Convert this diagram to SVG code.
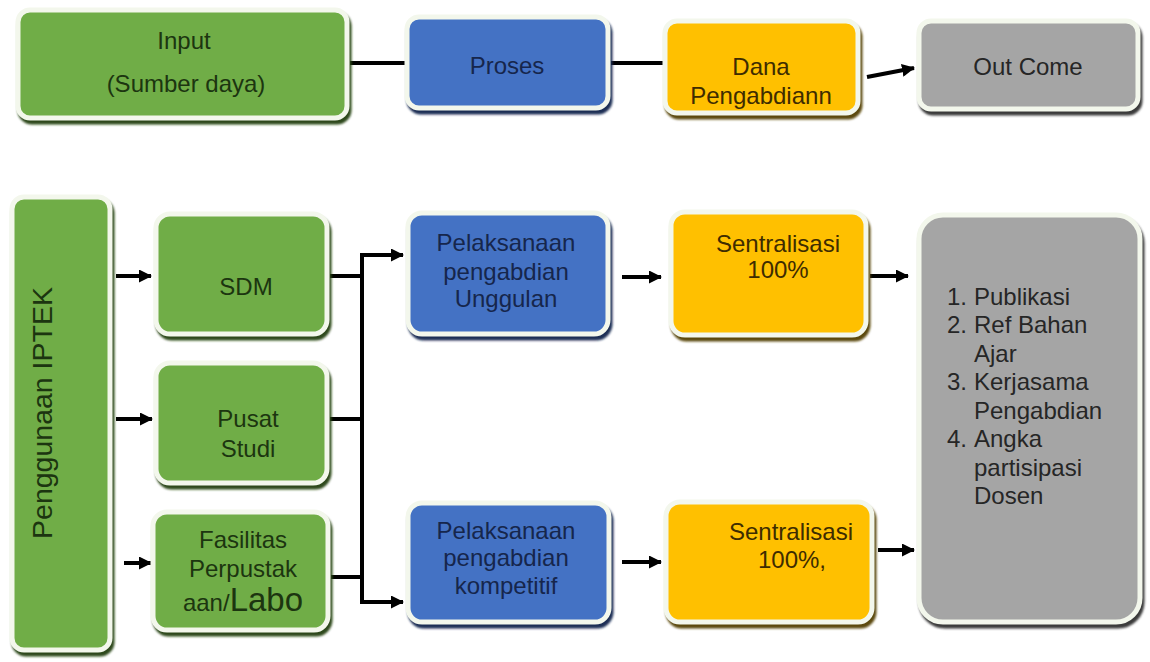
<svg xmlns="http://www.w3.org/2000/svg" width="1150" height="662" viewBox="0 0 1150 662">
<style>
  text { font-family: "Liberation Sans", Arial, sans-serif; font-size: 24px; text-anchor: middle; }
  .box { stroke: #F3F7EC; stroke-width: 5; }
  .sh { stroke-width: 5; filter: url(#blur); }
  .g { fill: #70AD47; } .gs { fill: #2E4A1C; stroke: #2E4A1C; } .gt { fill: #1C3510; }
  .b { fill: #4472C4; } .bs { fill: #1E2E55; stroke: #1E2E55; } .bt { fill: #16264C; }
  .y { fill: #FFC000; } .ys { fill: #5C4A0E; stroke: #5C4A0E; } .yt { fill: #3E2C00; }
  .k { fill: #A5A5A5; } .ks { fill: #3A3A3A; stroke: #3A3A3A; } .kt { fill: #262626; }
  .con { stroke: #000; stroke-width: 4; fill: none; }
  .arr { marker-end: url(#ah); }
  .list { text-anchor: start; font-size: 24px; }
</style>
<defs>
  <filter id="blur" x="-5%" y="-5%" width="110%" height="110%"><feGaussianBlur stdDeviation="1"/></filter>
  <marker id="ah" markerUnits="userSpaceOnUse" markerWidth="13" markerHeight="13" refX="12" refY="6.5" orient="auto">
    <path d="M0,0 L13,6.5 L0,13 z" fill="#000"/>
  </marker>
</defs>
<rect width="1150" height="662" fill="#FFFFFF"/>

<g id="connectors">
  <line class="con" x1="350" y1="63" x2="405" y2="63"/>
  <line class="con" x1="611" y1="63" x2="664" y2="63"/>
  <line class="con arr" x1="867" y1="77" x2="914" y2="68"/>
  <line class="con arr" x1="116" y1="276" x2="151" y2="276"/>
  <line class="con arr" x1="116" y1="419" x2="152" y2="419"/>
  <line class="con arr" x1="124" y1="563" x2="151" y2="563"/>
  <line class="con" x1="330" y1="276" x2="362" y2="276"/>
  <line class="con" x1="330" y1="419" x2="362" y2="419"/>
  <line class="con" x1="331" y1="577" x2="362" y2="577"/>
  <path class="con arr" d="M362,603 V255 H403"/>
  <path class="con arr" d="M360,602 H403"/>
  <line class="con arr" x1="622" y1="277" x2="661" y2="277"/>
  <line class="con arr" x1="622" y1="562" x2="661" y2="562"/>
  <line class="con arr" x1="870" y1="276" x2="908" y2="276"/>
  <line class="con arr" x1="878" y1="550" x2="914" y2="550"/>
</g>

<g id="input">
  <rect class="sh gs" x="20" y="14" width="329" height="108" rx="12"/>
  <rect class="box g" x="18" y="10" width="329" height="108" rx="12"/>
  <text class="gt" x="184" y="49">Input</text>
  <text class="gt" x="186" y="92">(Sumber daya)</text>
</g>
<g id="proses">
  <rect class="sh bs" x="409" y="21" width="201" height="91" rx="12"/>
  <rect class="box b" x="407" y="17" width="201" height="91" rx="12"/>
  <text class="bt" x="507" y="74">Proses</text>
</g>
<g id="dana">
  <rect class="sh ys" x="667" y="25" width="193" height="92" rx="12"/>
  <rect class="box y" x="665" y="21" width="193" height="92" rx="12"/>
  <text class="yt" x="761" y="75">Dana</text>
  <text class="yt" x="761" y="104">Pengabdiann</text>
</g>
<g id="outcome">
  <rect class="sh ks" x="921" y="25" width="219" height="88" rx="12"/>
  <rect class="box k" x="919" y="21" width="219" height="88" rx="12"/>
  <text class="kt" x="1028" y="75">Out Come</text>
</g>

<g id="iptek">
  <rect class="sh gs" x="14" y="201" width="98" height="453" rx="12"/>
  <rect class="box g" x="12" y="197" width="98" height="453" rx="12"/>
  <text class="gt" style="font-size:28.5px" transform="translate(52,413) rotate(-90)">Penggunaan IPTEK</text>
</g>
<g id="sdm">
  <rect class="sh gs" x="158" y="218" width="171" height="120" rx="14"/>
  <rect class="box g" x="156" y="214" width="171" height="120" rx="14"/>
  <text class="gt" x="246" y="295">SDM</text>
</g>
<g id="pusat">
  <rect class="sh gs" x="158" y="367" width="171" height="120" rx="14"/>
  <rect class="box g" x="156" y="363" width="171" height="120" rx="14"/>
  <text class="gt" x="248" y="427">Pusat</text>
  <text class="gt" x="248" y="457">Studi</text>
</g>
<g id="fasilitas">
  <rect class="sh gs" x="155" y="516" width="175" height="118" rx="14"/>
  <rect class="box g" x="153" y="512" width="175" height="118" rx="14"/>
  <text class="gt" x="243" y="548">Fasilitas</text>
  <text class="gt" x="243" y="577">Perpustak</text>
  <text class="gt" x="243" y="611">aan/<tspan style="font-size:33px">Labo</tspan></text>
</g>

<g id="unggulan">
  <rect class="sh bs" x="410" y="217" width="200" height="121" rx="14"/>
  <rect class="box b" x="408" y="213" width="200" height="121" rx="14"/>
  <text class="bt" x="506" y="251">Pelaksanaan</text>
  <text class="bt" x="506" y="280">pengabdian</text>
  <text class="bt" x="506" y="307">Unggulan</text>
</g>
<g id="kompetitif">
  <rect class="sh bs" x="410" y="507" width="201" height="119" rx="14"/>
  <rect class="box b" x="408" y="503" width="201" height="119" rx="14"/>
  <text class="bt" x="506" y="539">Pelaksanaan</text>
  <text class="bt" x="506" y="566">pengabdian</text>
  <text class="bt" x="506" y="594">kompetitif</text>
</g>

<g id="sentralisasi1">
  <rect class="sh ys" x="673" y="216" width="195" height="123" rx="14"/>
  <rect class="box y" x="671" y="212" width="195" height="123" rx="14"/>
  <text class="yt" x="778" y="252">Sentralisasi</text>
  <text class="yt" x="778" y="278">100%</text>
</g>
<g id="sentralisasi2">
  <rect class="sh ys" x="668" y="506" width="206" height="120" rx="14"/>
  <rect class="box y" x="666" y="502" width="206" height="120" rx="14"/>
  <text class="yt" x="791" y="540">Sentralisasi</text>
  <text class="yt" x="792" y="568">100%,</text>
</g>

<g id="hasil">
  <rect class="sh ks" x="921" y="219" width="221" height="407" rx="24"/>
  <rect class="box k" x="919" y="215" width="221" height="407" rx="24"/>
  <text class="kt list" x="947" y="305">1.</text><text class="kt list" x="974" y="305">Publikasi</text>
  <text class="kt list" x="947" y="333">2.</text><text class="kt list" x="974" y="333">Ref Bahan</text>
  <text class="kt list" x="974" y="362">Ajar</text>
  <text class="kt list" x="947" y="390">3.</text><text class="kt list" x="974" y="390">Kerjasama</text>
  <text class="kt list" x="974" y="419">Pengabdian</text>
  <text class="kt list" x="947" y="447">4.</text><text class="kt list" x="974" y="447">Angka</text>
  <text class="kt list" x="974" y="476">partisipasi</text>
  <text class="kt list" x="974" y="504">Dosen</text>
</g>
</svg>
